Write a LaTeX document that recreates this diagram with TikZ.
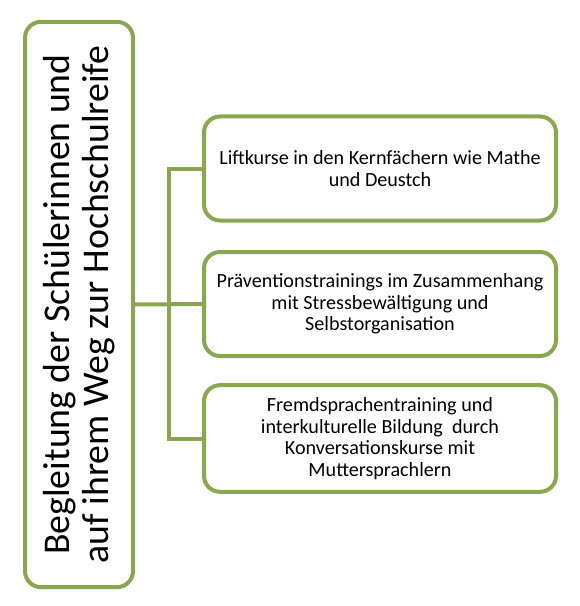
\documentclass[tikz,border=0pt]{standalone}
\usepackage{fontspec}
\setmainfont{Carlito}
\definecolor{og}{RGB}{137,167,80}
\begin{document}
\begin{tikzpicture}[x=0.75pt,y=-0.75pt,
  box/.style={draw=og,line width=3pt,fill=white,rounded corners=12pt,inner sep=0pt},
  rbox/.style={box,minimum width=264pt,minimum height=78pt,align=center,font=\fontsize{15.1}{16.3}\selectfont},
  conn/.style={draw=og,line width=3pt}]
\useasboundingbox (0,0) rectangle (580,606);
\node[box,minimum width=81pt,minimum height=424pt] (L) at (79,304.5) {};
\node[rotate=90,align=center,font=\fontsize{28.3}{29.5}\selectfont] (LT) at (L.center) {Begleitung der Schülerinnen und\\auf ihrem Weg zur Hochschulreife};
\node[rbox] (B1) at (380,168.5) {Liftkurse in den Kernfächern wie Mathe\\und Deustch};
\node[rbox] (B2) at (380,304) {Präventionstrainings im Zusammenhang\\mit Stressbewältigung und\\Selbstorganisation};
\node[rbox,minimum height=80pt] (B3) at (380,438.5) {Fremdsprachentraining und\\interkulturelle Bildung\ \ durch\\Konversationskurse mit\\Muttersprachlern};
\coordinate (J) at (169,305);
\draw[conn] (L.east) -- (B2.west);
\draw[conn] (B1.west) -| (J |- B3.west) -- (B3.west);
\end{tikzpicture}
\end{document}
